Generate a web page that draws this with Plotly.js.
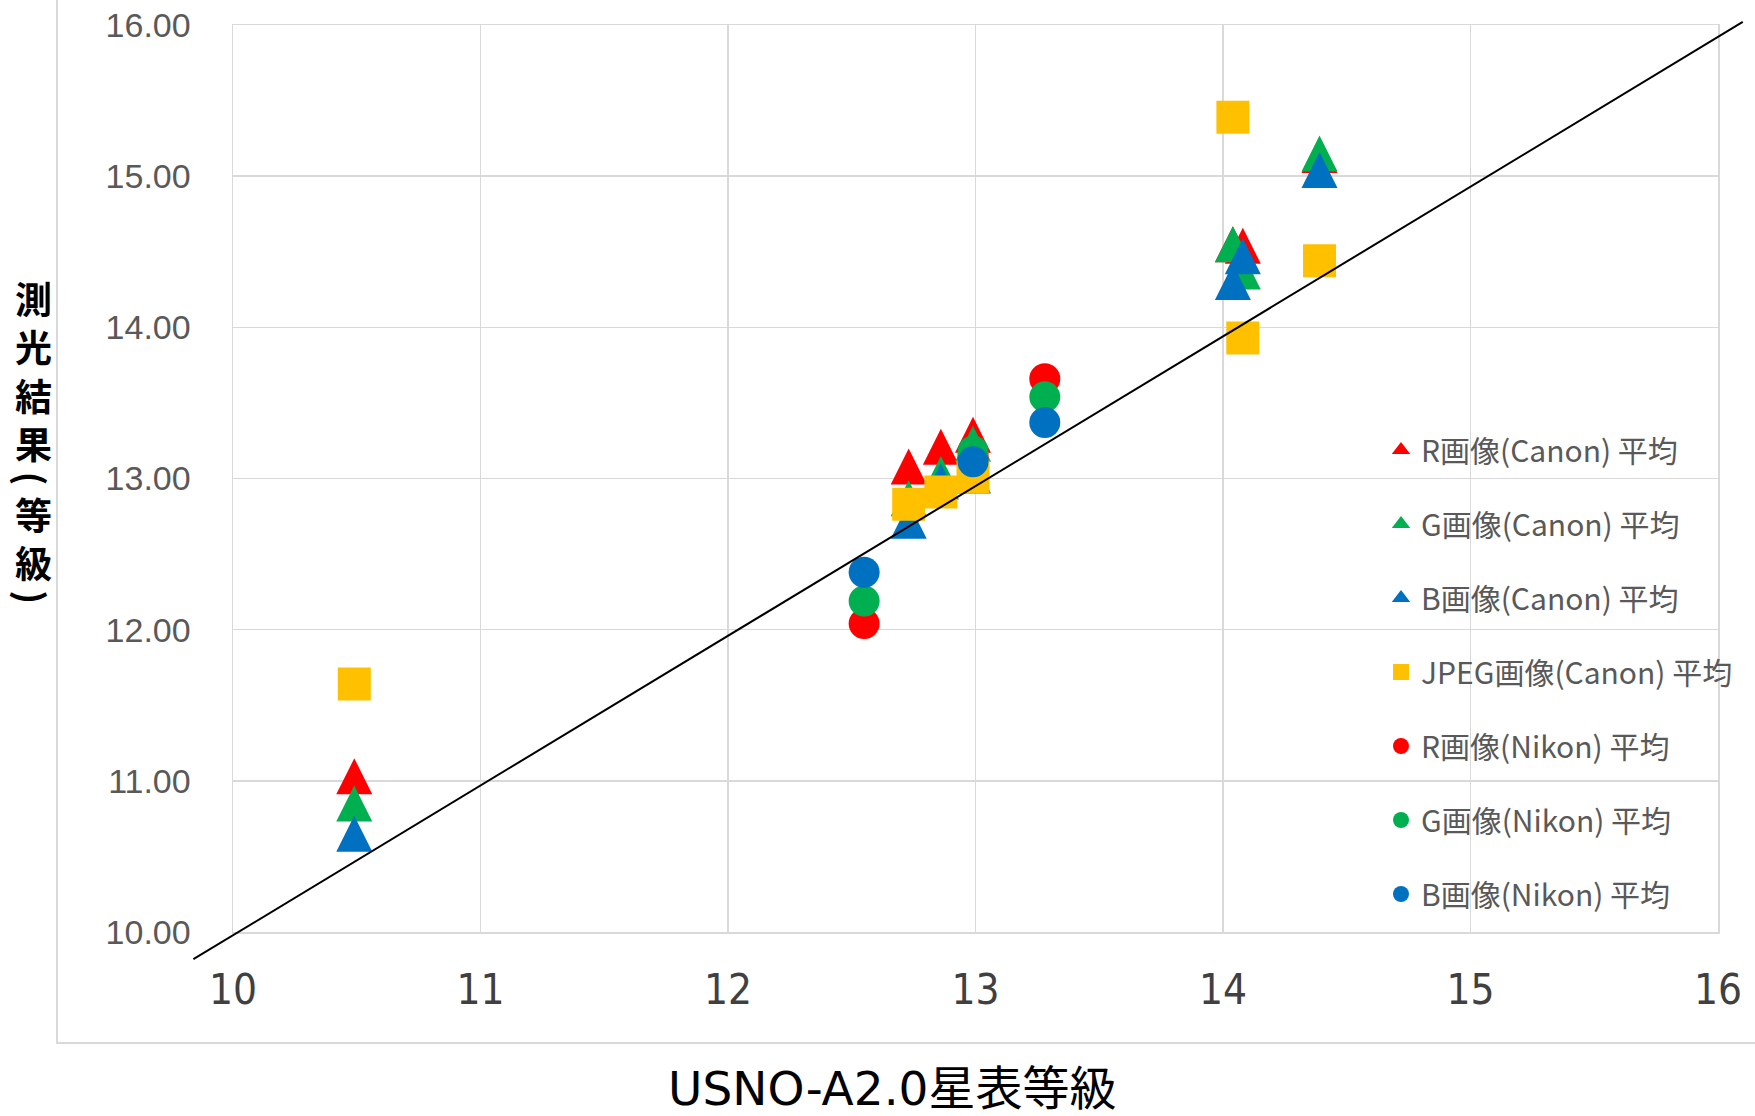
<!DOCTYPE html>
<html>
<head>
<meta charset="utf-8">
<script src="https://cdn.plot.ly/plotly-3.0.1.min.js"></script>
<style>
html,body{margin:0;padding:0;background:#fff;}
#chart{width:1755px;height:1116px;}
</style>
</head>
<body>
<div id="chart"></div>
<script>
// ---------------- data ----------------
const usnoMag   = [10.49, 12.55, 12.73, 12.86, 12.99, 13.28, 14.04, 14.08, 14.39];
const rCanon    = [11.03, null, 13.08, 13.21, 13.29, null, 14.55, 14.54, 15.14];
const gCanon    = [10.85, null, 12.87, 13.03, 13.23, null, 14.55, 14.37, 15.15];
const bCanon    = [10.65, null, 12.72, 12.98, 13.02, null, 14.30, 14.47, 15.04];
const jpegCanon = [11.64, null, 12.83, 12.91, 13.01, null, 15.39, 13.93, 14.44];
const rNikon    = [null, 12.04, null, null, 13.15, 13.66, null, null, null];
const gNikon    = [null, 12.19, null, null, 13.18, 13.54, null, null, null];
const bNikon    = [null, 12.38, null, null, 13.11, 13.37, null, null, null];

const seriesNames = ['R画像(Canon) 平均', 'G画像(Canon) 平均', 'B画像(Canon) 平均',
                     'JPEG画像(Canon) 平均', 'R画像(Nikon) 平均', 'G画像(Nikon) 平均', 'B画像(Nikon) 平均'];
const seriesValues = [rCanon, gCanon, bCanon, jpegCanon, rNikon, gNikon, bNikon];

const refLineX = [9.84, 16.10];
const refLineY = [9.82, 16.02];

const xTickVals = [10, 11, 12, 13, 14, 15, 16];
const yTickVals = [10, 11, 12, 13, 14, 15, 16];
const xTitleText = 'USNO-A2.0星表等級';
const yTitleChars = ['測', '光', '結', '果', '(', '等', '級', ')'];

// ---------------- styles / layout geometry ----------------
const W = 1755, H = 1116;
const ML = 150, MR = 5, MT = 5, MB = 140;
const PW = W - ML - MR, PH = H - MT - MB;
const px = x => (x - ML) / PW;
const py = y => (H - MB - y) / PH;

const PL = 233, PR = 1718, PT = 25, PB = 932;
const xr = [10, 16], yr = [10, 16];
const xppu = (PR - PL) / (xr[1] - xr[0]);
const yppu = (PB - PT) / (yr[1] - yr[0]);
const x2r = [xr[0] - (PL - ML) / xppu, xr[1] + (W - MR - PR) / xppu];
const y2r = [yr[0] - (H - MB - PB) / yppu, yr[1] + (PT - MT) / yppu];

const RED = '#FF0000', GREEN = '#00B050', BLUE = '#0070C0', YELLOW = '#FFC000';
const colors  = [RED, GREEN, BLUE, YELLOW, RED, GREEN, BLUE];
const shapes_ = ['tri', 'tri', 'tri', 'sq', 'ci', 'ci', 'ci'];

function plotMarker(kind, c) {
  if (kind === 'tri') return {symbol: 'arrow-down', angle: 180, size: 36, standoff: 18, color: c, line: {width: 0}};
  if (kind === 'sq')  return {symbol: 'square', size: 33, color: c, line: {width: 0}};
  return {symbol: 'circle', size: 31, color: c, line: {width: 0}};
}
function legendMarker(kind, c) {
  if (kind === 'tri') return {symbol: 'triangle-up', size: 16, color: c, line: {width: 0}};
  if (kind === 'sq')  return {symbol: 'square', size: 16, color: c, line: {width: 0}};
  return {symbol: 'circle', size: 16, color: c, line: {width: 0}};
}

// visible marks (drawn in series order)
const traces = seriesValues.map((vals, i) => ({
  type: 'scatter', mode: 'markers',
  x: usnoMag, y: vals, name: seriesNames[i],
  marker: plotMarker(shapes_[i], colors[i]),
  cliponaxis: false, showlegend: false,
  hoverinfo: 'skip'
}));

// legend entries (no data, symbol only)
seriesNames.forEach((nm, i) => {
  traces.push({
    type: 'scatter', mode: 'markers',
    x: [null], y: [null], name: nm,
    legendgroup: 'g' + i,
    marker: legendMarker(shapes_[i], colors[i]),
    showlegend: true, hoverinfo: 'skip'
  });
});

// 1:1 reference line (drawn above markers, extends slightly past the plot frame)
traces.push({
  type: 'scatter', mode: 'lines',
  x: refLineX, y: refLineY,
  xaxis: 'x2', yaxis: 'y2',
  line: {color: '#000000', width: 2},
  showlegend: false, hoverinfo: 'skip'
});

// y title: stacked upright characters, parentheses turned to vertical form
const annotations = [];
let yc = 298;
const isParen = ch => (ch === '(' || ch === ')');
yTitleChars.forEach((ch, i) => {
  if (i > 0) {
    const w0 = isParen(yTitleChars[i-1]) ? 0.45 : 1, w1 = isParen(ch) ? 0.45 : 1;
    yc += 48.5 * (w0 + w1) / 2;
  }
  annotations.push({
    xref: 'paper', yref: 'paper', x: px(33), y: py(yc),
    xanchor: 'center', yanchor: 'middle', showarrow: false,
    text: ch, textangle: isParen(ch) ? 90 : 0, borderpad: 0,
    font: {family: 'Noto Sans CJK JP', size: isParen(ch) ? 36 : 37, color: '#000000', weight: 700}
  });
});

annotations.push({
  xref: 'paper', yref: 'paper', x: px(892), y: py(1088),
  xanchor: 'center', yanchor: 'middle', showarrow: false, borderpad: 0,
  text: xTitleText,
  font: {family: 'DejaVu Sans, Noto Sans CJK JP', size: 47, color: '#000000'}
});

const layout = {
  width: W, height: H,
  margin: {l: ML, r: MR, t: MT, b: MB, pad: 0},
  paper_bgcolor: '#ffffff',
  plot_bgcolor: 'rgba(0,0,0,0)',
  hovermode: false,
  showlegend: true,
  xaxis: {
    domain: [px(PL), px(PR)], range: xr, anchor: 'y',
    tickvals: xTickVals, tickformat: 'd',
    showgrid: true, gridcolor: '#d9d9d9', gridwidth: 1.5,
    showline: true, linecolor: '#d9d9d9', linewidth: 1.5, mirror: true,
    zeroline: false,
    ticks: 'outside', ticklen: 20, tickcolor: 'rgba(0,0,0,0)',
    tickfont: {family: 'Liberation Sans Narrow, DejaVu Sans Condensed, Liberation Sans', size: 42, color: '#404040'},
    automargin: false, fixedrange: true
  },
  yaxis: {
    domain: [py(PB), py(PT)], range: yr, anchor: 'x',
    tickvals: yTickVals, tickformat: '.2f',
    showgrid: true, gridcolor: '#d9d9d9', gridwidth: 1.5,
    showline: true, linecolor: '#d9d9d9', linewidth: 1.5, mirror: true,
    zeroline: false,
    ticks: 'outside', ticklen: 34, tickcolor: 'rgba(0,0,0,0)',
    tickfont: {family: 'Liberation Sans, Arial', size: 34, color: '#595959'},
    automargin: false, fixedrange: true
  },
  xaxis2: {domain: [0, 1], range: x2r, anchor: 'y2', visible: false, fixedrange: true},
  yaxis2: {domain: [0, 1], range: y2r, anchor: 'x2', visible: false, fixedrange: true},
  legend: {
    x: px(1381), y: py(424), xanchor: 'left', yanchor: 'top',
    bgcolor: 'rgba(0,0,0,0)', borderwidth: 0,
    tracegroupgap: 32, itemsizing: 'trace', traceorder: 'grouped',
    font: {family: 'Noto Sans CJK JP', size: 30, color: '#595959'}
  },
  shapes: [{
    type: 'rect', xref: 'paper', yref: 'paper', layer: 'below',
    x0: px(57), y0: py(1043), x1: px(1775), y1: py(-20),
    line: {color: '#d9d9d9', width: 2}, fillcolor: 'rgba(0,0,0,0)'
  }],
  annotations: annotations
};

Plotly.newPlot('chart', traces, layout, {staticPlot: true, displayModeBar: false});
</script>
</body>
</html>
